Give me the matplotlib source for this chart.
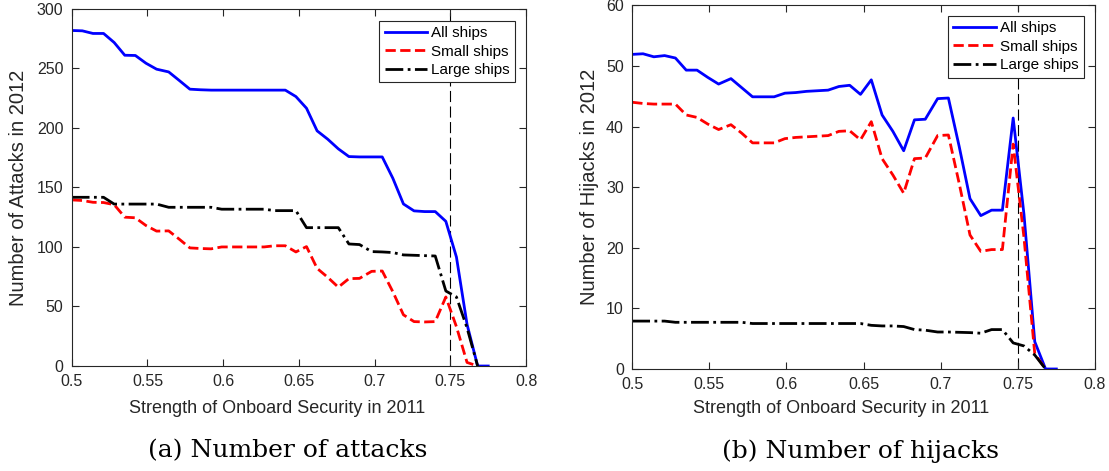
import matplotlib
matplotlib.use('Agg')
import matplotlib.pyplot as plt

# 横轴：2011年船上安保强度
strength = [0.500, 0.507, 0.514, 0.521, 0.528, 0.535, 0.542, 0.549, 0.556, 0.564,
            0.571, 0.578, 0.585, 0.592, 0.599, 0.606, 0.613, 0.620, 0.627, 0.634,
            0.641, 0.648, 0.655, 0.662, 0.669, 0.676, 0.683, 0.690, 0.698, 0.705,
            0.712, 0.719, 0.726, 0.733, 0.740, 0.747, 0.754, 0.761, 0.768, 0.775]

# (a) 2012年袭击次数
attacks_all = [281.8, 281.5, 279.3, 279.3, 271.7, 261.0, 260.8, 254.3, 249.3, 247.0,
               239.8, 232.5, 232.0, 231.7, 231.7, 231.7, 231.7, 231.7, 231.7, 231.7,
               231.7, 226.3, 216.5, 197.5, 190.5, 182.4, 175.9, 175.6, 175.6, 175.6,
               157.7, 136.1, 130.3, 129.7, 129.7, 121.5, 91.5, 35.0, 0, 0]
attacks_small = [139.5, 139.0, 137.5, 137.3, 135.5, 125.0, 124.5, 118.0, 113.3, 113.5,
                 106.5, 99.2, 98.7, 98.4, 100.0, 100.0, 100.0, 100.0, 100.0, 101.0,
                 101.0, 95.8, 100.3, 82.0, 74.5, 66.2, 73.4, 73.6, 79.5, 79.8,
                 62.4, 43.0, 37.3, 37.0, 37.3, 58.0, 33.0, 3.0, 0]
attacks_large = [141.7, 141.7, 141.7, 141.7, 136.0, 136.0, 136.0, 136.0, 136.0, 133.3,
                 133.3, 133.3, 133.3, 133.3, 131.7, 131.7, 131.7, 131.7, 131.7, 130.5,
                 130.5, 130.5, 116.2, 116.2, 116.2, 116.2, 102.5, 102.0, 96.1, 95.8,
                 95.3, 93.3, 93.0, 92.7, 92.4, 63.0, 58.0, 32.0, 0]

# (b) 2012年劫持次数
hijacks_all = [51.9, 52.0, 51.5, 51.7, 51.3, 49.3, 49.3, 48.1, 47.0, 47.9,
               46.4, 44.9, 44.9, 44.9, 45.5, 45.6, 45.8, 45.9, 46.0, 46.6,
               46.8, 45.3, 47.7, 41.9, 39.2, 36.0, 41.1, 41.2, 44.6, 44.7,
               36.7, 28.1, 25.3, 26.2, 26.2, 41.4, 25.5, 4.5, 0, 0]
hijacks_small = [44.0, 43.8, 43.7, 43.7, 43.7, 41.9, 41.5, 40.4, 39.5, 40.3,
                 38.9, 37.3, 37.3, 37.3, 38.0, 38.2, 38.3, 38.4, 38.5, 39.2,
                 39.3, 37.8, 40.8, 34.7, 32.0, 29.0, 34.7, 34.8, 38.5, 38.6,
                 30.6, 22.1, 19.4, 19.7, 19.7, 37.1, 21.7, 2.5, 0]
hijacks_large = [7.9, 7.9, 7.9, 7.9, 7.7, 7.7, 7.7, 7.7, 7.7, 7.7,
                 7.7, 7.5, 7.5, 7.5, 7.5, 7.5, 7.5, 7.5, 7.5, 7.5,
                 7.5, 7.5, 7.2, 7.1, 7.1, 7.0, 6.5, 6.4, 6.1, 6.1,
                 6.05, 6.0, 5.9, 6.5, 6.5, 4.3, 3.8, 2.3, 0]

series_names = ['All ships', 'Small ships', 'Large ships']
x_ticks = [0.5, 0.55, 0.6, 0.65, 0.7, 0.75, 0.8]
x_tick_labels = ['0.5', '0.55', '0.6', '0.65', '0.7', '0.75', '0.8']
threshold = 0.75

plt.rcParams['font.family'] = ['Liberation Sans', 'DejaVu Sans']
AX_GRAY = '#262626'


# 画一个面板
def draw_panel(ax, all_v, small_v, large_v, y_max, y_step, ylabel, leg_anchor):
    n = len(small_v)
    ax.plot(strength, all_v, color='#0000FF', lw=2.0, label=series_names[0])
    ax.plot(strength[:n], small_v, color='#FF0000', lw=2.0, ls='--', label=series_names[1])
    ax.plot(strength[:len(large_v)], large_v, color='black', lw=2.0, ls='-.', label=series_names[2])
    ax.axvline(threshold, color='black', lw=0.8, ls=(0, (10, 4)), zorder=1)

    ax.set_xlim(0.5, 0.8)
    ax.set_ylim(0, y_max)
    ax.set_xticks(x_ticks)
    ax.set_xticklabels(x_tick_labels)
    ax.set_yticks(list(range(0, y_max + 1, y_step)))
    ax.tick_params(direction='in', length=5, width=0.8, colors=AX_GRAY,
                   labelsize=11.5, top=True, right=True, pad=6)
    for s in ax.spines.values():
        s.set_color(AX_GRAY)
        s.set_linewidth(0.8)

    ax.set_xlabel('Strength of Onboard Security in 2011', fontsize=13, color=AX_GRAY, va='center')
    ax.set_ylabel(ylabel, fontsize=14.5, color=AX_GRAY, va='center')

    leg = ax.legend(loc='upper right', bbox_to_anchor=leg_anchor, borderaxespad=0,
                    fontsize=11, handlelength=2.8, handletextpad=0.25, labelspacing=0.3,
                    borderpad=0.35, fancybox=False, framealpha=1, edgecolor=AX_GRAY)
    leg.get_frame().set_linewidth(0.8)
    leg.set_zorder(5)


fig = plt.figure(figsize=(11.09, 4.71), dpi=100)
ax1 = fig.add_axes([0.0647, 0.2229, 0.4097, 0.7584])
ax2 = fig.add_axes([0.5701, 0.2166, 0.4172, 0.7722])

draw_panel(ax1, attacks_all, attacks_small, attacks_large, 300, 50,
           'Number of Attacks in 2012', (0.976, 0.967))
draw_panel(ax2, hijacks_all, hijacks_small, hijacks_large, 60, 10,
           'Number of Hijacks in 2012', (0.976, 0.971))

ax1.xaxis.set_label_coords(0.452, -0.118)
ax1.yaxis.set_label_coords(-0.118, 0.5)
ax2.xaxis.set_label_coords(0.451, -0.11)
ax2.yaxis.set_label_coords(-0.0914, 0.5)

# 子图标题
fig.text(288 / 1109, 1 - 451 / 471, '(a) Number of attacks', family='DejaVu Serif',
         fontsize=18, ha='center', va='center')
fig.text(860 / 1109, 1 - 451 / 471, '(b) Number of hijacks', family='DejaVu Serif',
         fontsize=18, ha='center', va='center')

fig.savefig('out.png', dpi=100)
